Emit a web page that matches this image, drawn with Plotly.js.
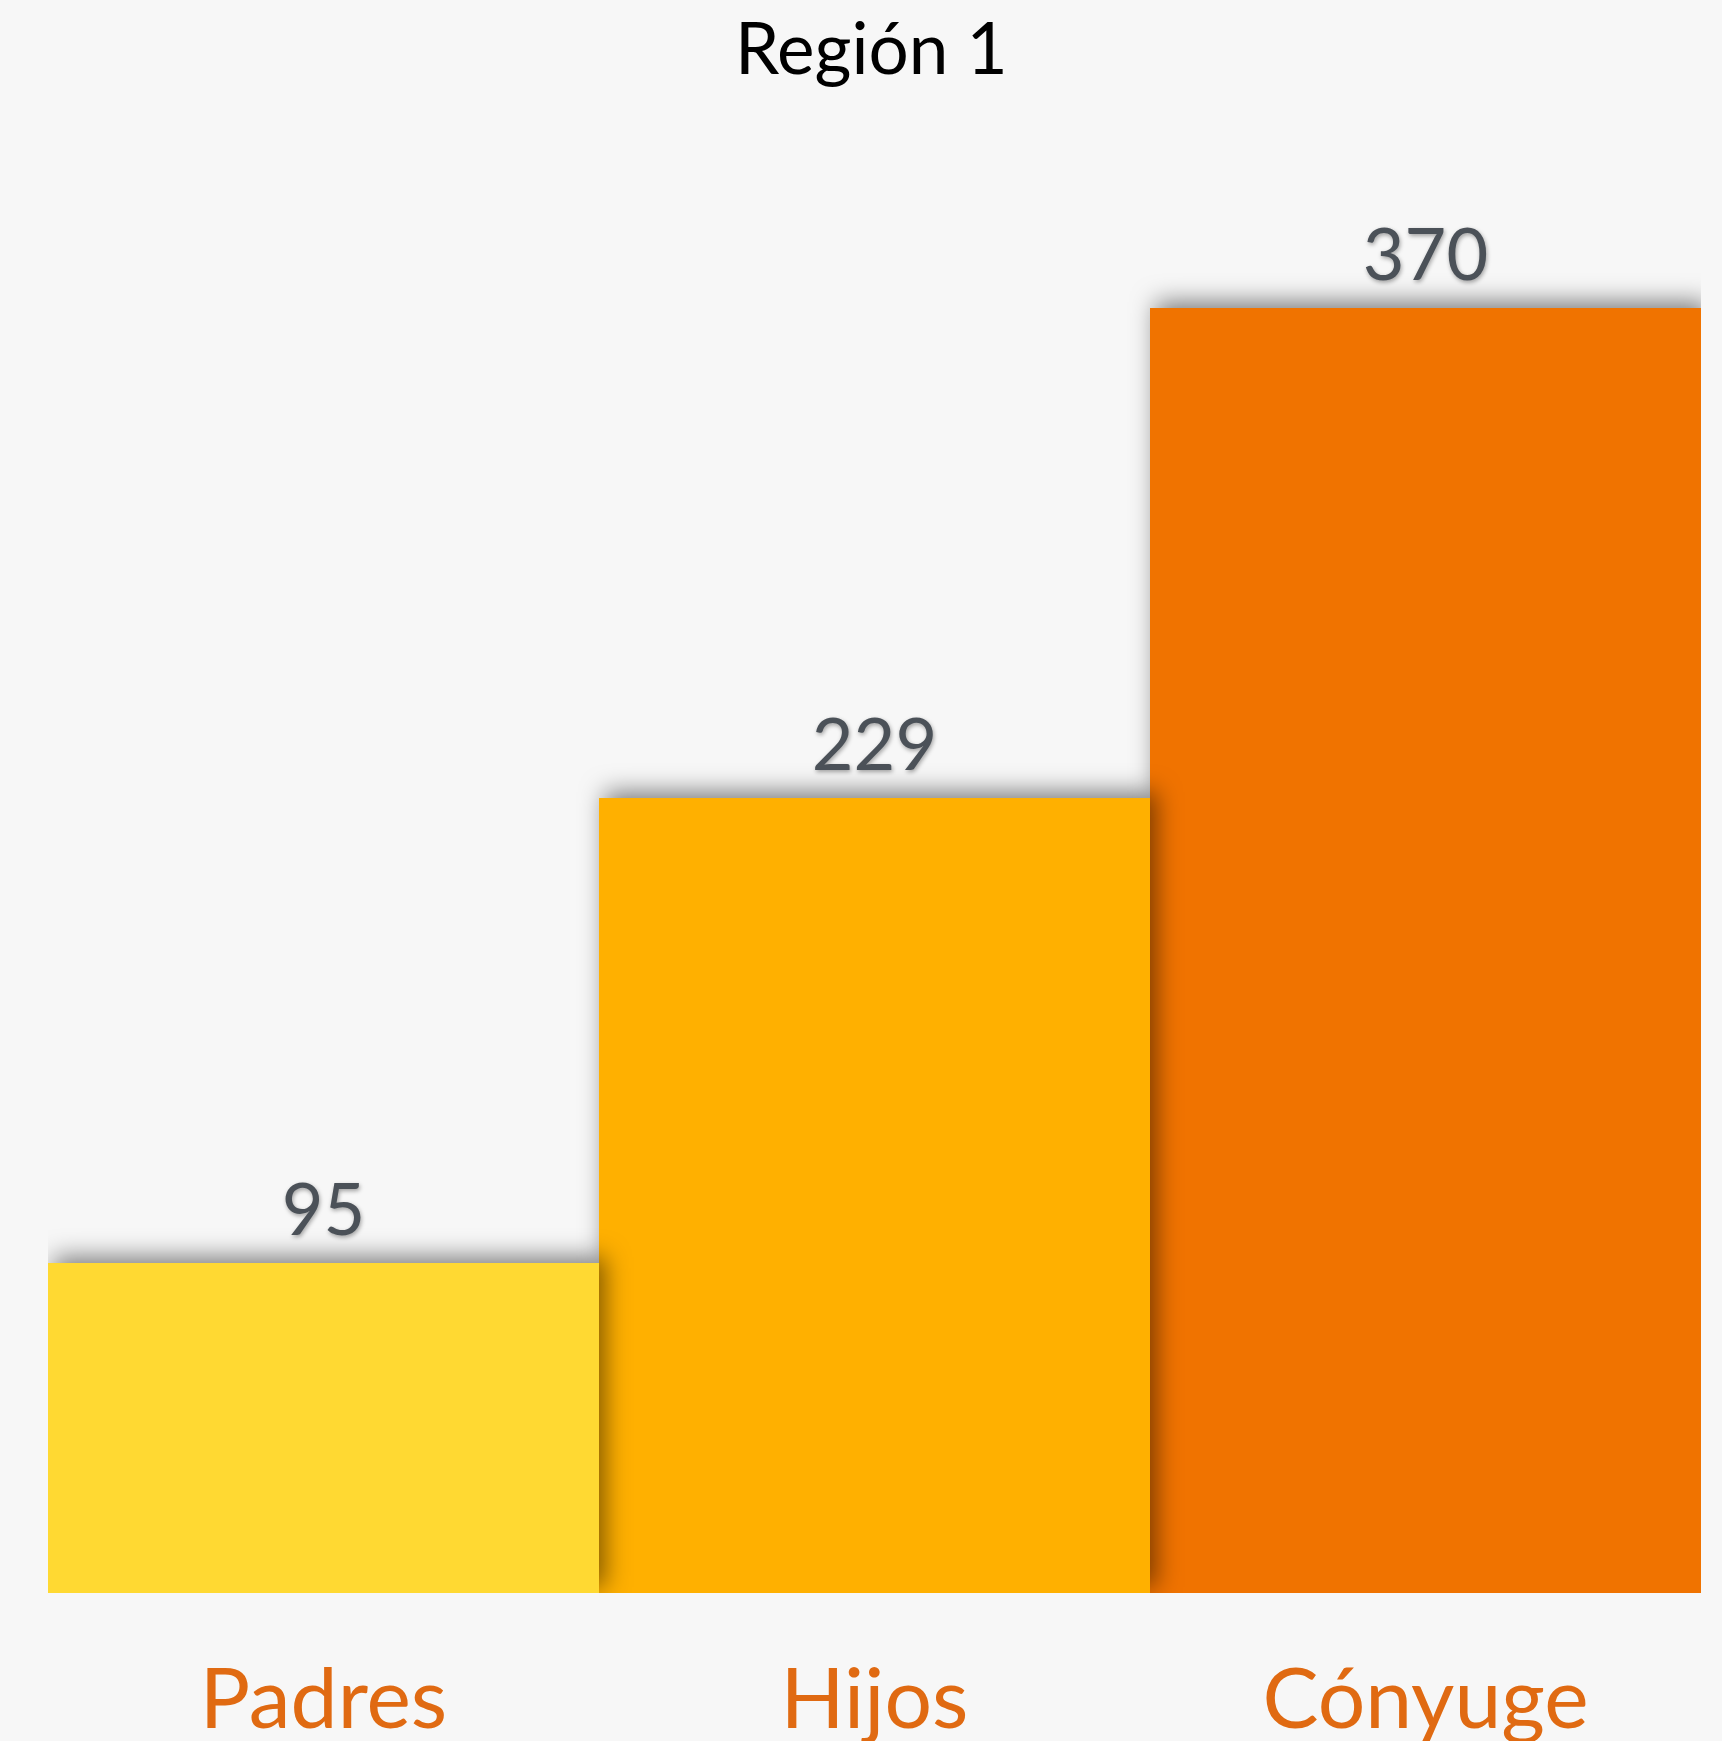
<!DOCTYPE html>
<html>
<head>
<meta charset="utf-8">
<script src="https://cdn.plot.ly/plotly-3.0.1.min.js"></script>
<style>
  html, body { margin: 0; padding: 0; background: #f7f7f7; }
  #chart .trace.bars .point path { filter: drop-shadow(6px -6px 12px rgba(0,0,0,0.5)); }
  #chart .trace.bars .point text { filter: drop-shadow(1px 2px 2px rgba(0,0,0,0.35)); translate: 0 -10px; }
</style>
</head>
<body>
<div id="chart" style="width:1722px;height:1741px;"></div>
<script>
const categories = ["Padres", "Hijos", "Cónyuge"];
const values = [95, 229, 370];
const barColors = ["#FFD932", "#FFB000", "#F07300"];
const chartTitle = "Región 1";

const fontFamily = "Lato, 'Noto Sans', sans-serif";

const trace = {
  type: "bar",
  x: categories,
  y: values,
  marker: { color: barColors, line: { width: 0 } },
  text: values.map(String),
  textposition: "outside",
  cliponaxis: false,
  textfont: { family: fontFamily, size: 72, color: "#4b5158" },
  hoverinfo: "none"
};

const layout = {
  width: 1722,
  height: 1741,
  paper_bgcolor: "#f7f7f7",
  plot_bgcolor: "#f7f7f7",
  margin: { l: 48, r: 21, t: 100, b: 148 },
  bargap: 0,
  showlegend: false,
  title: {
    text: chartTitle,
    font: { family: fontFamily, size: 71, color: "#000000" },
    x: 0.506, xanchor: "center",
    y: 0.972, yanchor: "middle", yref: "container"
  },
  xaxis: {
    showgrid: false, zeroline: false, showline: false, ticks: "",
    tickfont: { family: fontFamily, size: 84, color: "#E06A12" },
    ticklabelstandoff: 50
  },
  yaxis: {
    range: [0, 430],
    showgrid: false, zeroline: false, showline: false,
    showticklabels: false, ticks: ""
  }
};

Plotly.newPlot("chart", [trace], layout, { displayModeBar: false, staticPlot: true }).then(function (gd) {
  // draw later bars underneath earlier ones so each shadow falls on its right neighbour
  document.querySelectorAll("#chart .trace.bars g.points").forEach(function (g) {
    const pts = Array.from(g.querySelectorAll(":scope > g.point"));
    pts.reverse().forEach(function (p) { g.appendChild(p); });
  });
});
</script>
</body>
</html>
